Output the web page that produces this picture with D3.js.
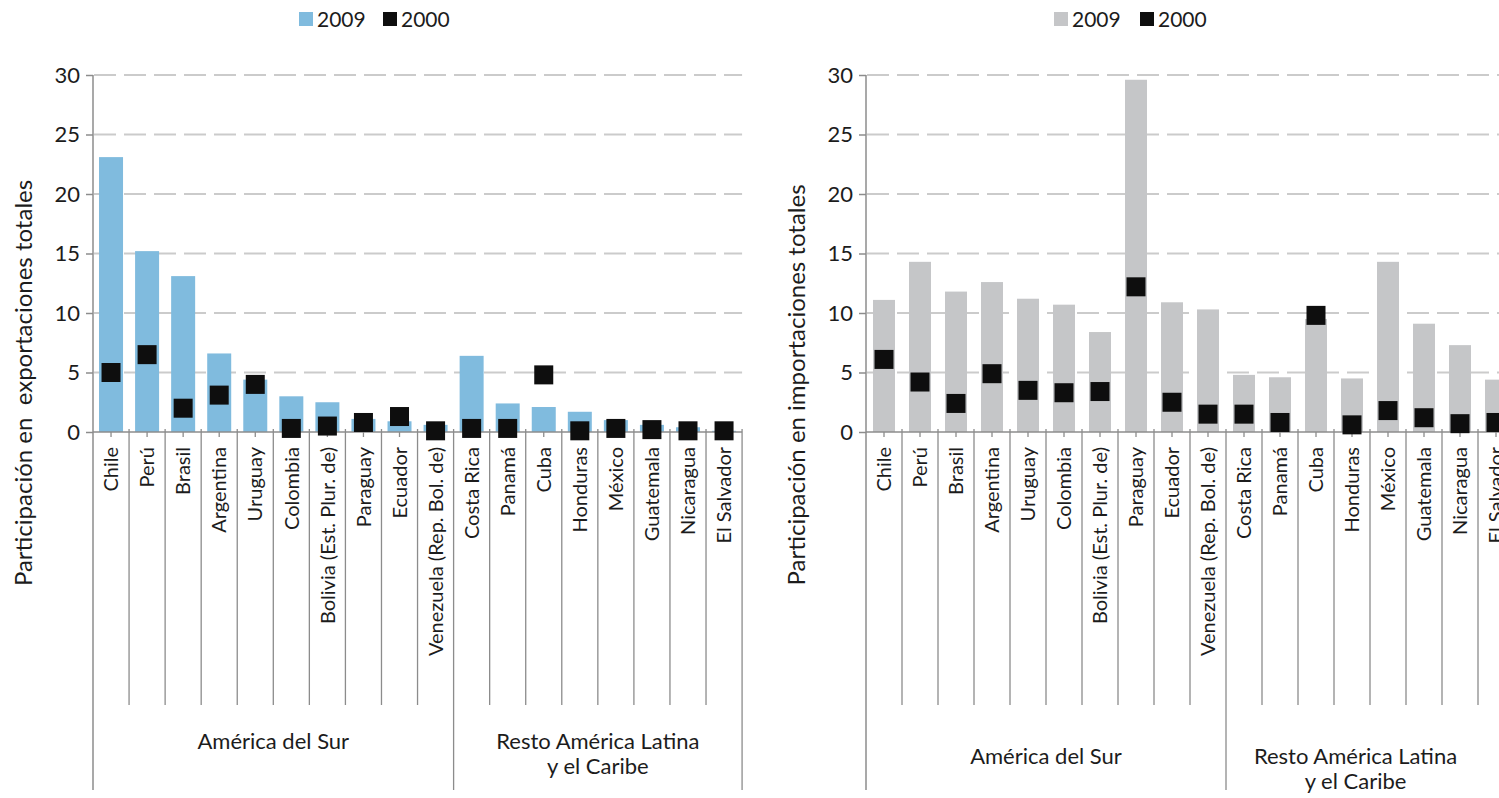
<!DOCTYPE html>
<html><head><meta charset="utf-8">
<script src="https://cdn.jsdelivr.net/npm/d3@7"></script>
<style>
body{margin:0;background:#fff;}
svg{display:block;font-family:Lato,'Open Sans',sans-serif;}
text{white-space:pre;}
</style>
</head><body>
<svg id="c" width="1499" height="798"></svg>
<script>
const categories = ["Chile","Perú","Brasil","Argentina","Uruguay","Colombia","Bolivia (Est. Plur. de)","Paraguay","Ecuador","Venezuela (Rep. Bol. de)","Costa Rica","Panamá","Cuba","Honduras","México","Guatemala","Nicaragua","El Salvador"];
const groupNames = [["América del Sur"],["Resto América Latina","y el Caribe"]];
const groupSizes = [10, 8];
const export2009 = [23.1,15.2,13.1,6.6,4.4,3.0,2.5,1.1,0.9,0.6,6.4,2.4,2.1,1.7,1.0,0.6,0.4,0.1];
const export2000 = [5.0,6.5,2.0,3.1,4.0,0.3,0.5,0.8,1.3,0.1,0.3,0.3,4.8,0.1,0.3,0.2,0.1,0.1];
const import2009 = [11.1,14.3,11.8,12.6,11.2,10.7,8.4,29.6,10.9,10.3,4.8,4.6,9.5,4.5,14.3,9.1,7.3,4.4];
const import2000 = [6.1,4.2,2.4,4.9,3.5,3.3,3.4,12.2,2.5,1.5,1.5,0.8,9.8,0.6,1.8,1.2,0.7,0.8];
const yTicks = [0,5,10,15,20,25,30];
const seriesLabels = ["2009","2000"];
const yTitles = ["Participación en  exportaciones totales","Participación en importaciones totales"];

const svg = d3.select("#c");
const TXT = "#1c1c1c", AX = "#8c8c8c";

function drawChart(cfg){
  const g = svg.append("g");
  const n = categories.length;
  const x = d3.scaleBand().domain(categories).range([cfg.left, cfg.left + cfg.band*n]);
  const y = d3.scaleLinear().domain([0,30]).range([432,75]);
  const xEnd = x.range()[1];
  const bw = x.bandwidth();

  // grid
  g.append("g").selectAll("line").data(yTicks.filter(t=>t>0)).join("line")
    .attr("x1", cfg.left+1).attr("x2", Math.min(xEnd, 1499))
    .attr("y1", d=>y(d)).attr("y2", d=>y(d))
    .attr("stroke","#cbcbcb").attr("stroke-width",2).attr("stroke-dasharray","22,8");

  // bars 2009
  g.append("g").selectAll("rect").data(cfg.v2009).join("rect")
    .attr("x",(d,i)=>x(categories[i]) + (bw-cfg.barW)/2)
    .attr("width",cfg.barW)
    .attr("y",d=>y(d)).attr("height",d=>y(0)-y(d))
    .attr("fill",cfg.color);

  // y axis
  const ax = g.append("g").attr("transform",`translate(${cfg.left},0)`)
    .call(d3.axisLeft(y).tickValues(yTicks).tickSize(7).tickPadding(6));
  ax.select(".domain").remove();
  ax.selectAll(".tick line").attr("stroke",AX).attr("stroke-width",1.5);
  ax.selectAll(".tick text").attr("fill",TXT).attr("font-size",22).attr("font-family","Lato,sans-serif");

  // left axis full line
  g.append("line").attr("x1",cfg.left).attr("x2",cfg.left).attr("y1",y(30)).attr("y2",790)
    .attr("stroke",AX).attr("stroke-width",1.5);
  // baseline
  g.append("line").attr("x1",cfg.left).attr("x2",xEnd).attr("y1",y(0)).attr("y2",y(0))
    .attr("stroke",AX).attr("stroke-width",1.5);

  // group boundaries
  const bounds = [];
  let acc = 0;
  groupSizes.forEach(s=>{acc+=s; bounds.push(acc);});
  const sepIdx = d3.range(1,n).filter(i=>!bounds.includes(i));
  g.append("g").selectAll("line").data(sepIdx).join("line")
    .attr("x1",i=>x(categories[i])).attr("x2",i=>x(categories[i]))
    .attr("y1",y(0)-3).attr("y2",705).attr("stroke",AX).attr("stroke-width",1.3);
  g.append("g").selectAll("line").data(bounds).join("line")
    .attr("x1",i=> i<n ? x(categories[i]) : xEnd).attr("x2",i=> i<n ? x(categories[i]) : xEnd)
    .attr("y1",y(0)-3).attr("y2",790).attr("stroke",AX).attr("stroke-width",1.3);
  // center ticks
  g.append("g").selectAll("line").data(categories).join("line")
    .attr("x1",d=>x(d)+bw/2).attr("x2",d=>x(d)+bw/2)
    .attr("y1",y(0)).attr("y2",y(0)+5).attr("stroke",AX).attr("stroke-width",1.3);

  // markers 2000
  const ms = 19;
  g.append("g").selectAll("rect").data(cfg.v2000).join("rect")
    .attr("x",(d,i)=>x(categories[i]) + bw/2 - ms/2)
    .attr("y",d=>y(d)-ms/2).attr("width",ms).attr("height",ms)
    .attr("fill","#0e0e0e");

  // category labels
  g.append("g").selectAll("text").data(categories).join("text")
    .attr("transform",d=>`translate(${x(d)+bw/2},447) rotate(-90)`)
    .attr("text-anchor","end").attr("dy","0.36em")
    .attr("font-size",20).attr("fill",TXT).text(d=>d);

  // group labels
  let start = 0;
  groupSizes.forEach((s,gi)=>{
    const x0 = x(categories[start]);
    const x1 = Math.min(start+s<n ? x(categories[start+s]) : xEnd, cfg.visibleRight);
    const cx = (x0+x1)/2;
    groupNames[gi].forEach((line,li)=>{
      g.append("text").attr("x",cx).attr("y",cfg.groupY + li*25)
        .attr("text-anchor","middle").attr("font-size",22).attr("fill",TXT).text(line);
    });
    start += s;
  });

  // y title
  g.append("text").attr("transform",`translate(${cfg.titleX},${cfg.titleY}) rotate(-90)`)
    .attr("text-anchor","middle").attr("dy","0.35em")
    .attr("font-size",24).attr("fill",TXT).text(cfg.title);

  // legend
  const lg = g.append("g");
  const items = [{c:cfg.color,l:seriesLabels[0],x:cfg.legX[0]},{c:"#0e0e0e",l:seriesLabels[1],x:cfg.legX[1]}];
  items.forEach(it=>{
    lg.append("rect").attr("x",it.x).attr("y",12).attr("width",14).attr("height",14).attr("fill",it.c);
    lg.append("text").attr("x",it.x+18).attr("y",26.5).attr("font-size",21).attr("fill",TXT).text(it.l);
  });
}

drawChart({left:93, band:36.06, barW:24, color:"#80bbde", v2009:export2009, v2000:export2000,
  groupY:749, titleX:24, titleY:383, title:yTitles[0], legX:[299,383], visibleRight:1499});
drawChart({left:866, band:36.0, barW:22, color:"#c5c6c8", v2009:import2009, v2000:import2000,
  groupY:764, titleX:797, titleY:385, title:yTitles[1], legX:[1054,1140], visibleRight:1485});
</script>
</body></html>
